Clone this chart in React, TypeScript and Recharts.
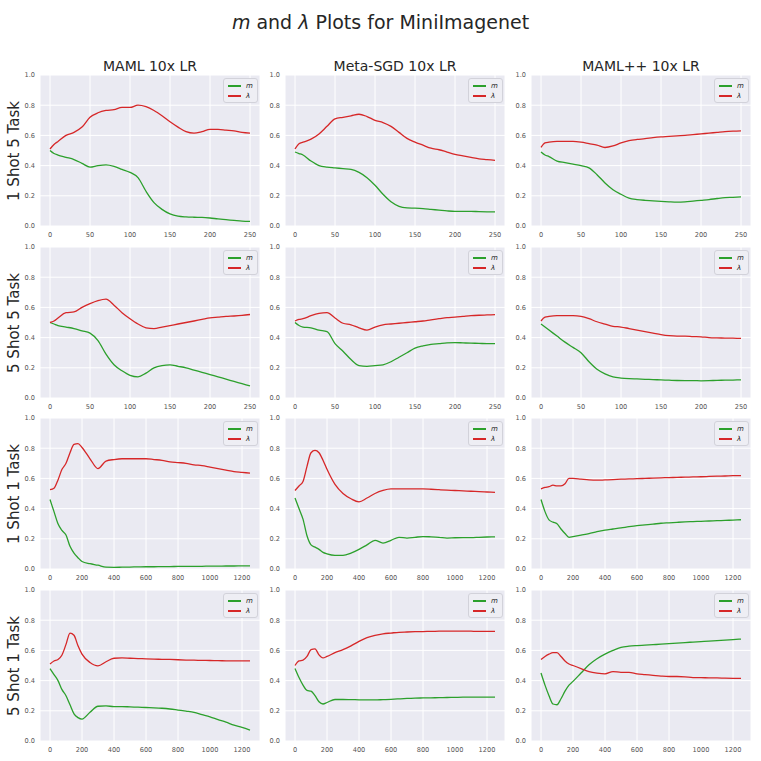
import React from "react";
import { LineChart, Line, XAxis, YAxis, CartesianGrid, Legend } from "recharts";

// training steps (x values)
const SHORT_STEPS = [0, 5, 10, 20, 30, 40, 50, 60, 70, 80, 90, 100, 110, 120, 130, 140, 150, 160, 170, 180, 190, 200, 210, 220, 230, 240, 250];
const LONG_STEPS = [0, 25, 50, 75, 100, 125, 150, 175, 200, 250, 300, 350, 400, 450, 500, 550, 600, 650, 700, 750, 800, 850, 900, 950, 1000, 1050, 1100, 1150, 1200, 1250];

const SHORT_TICKS = [0, 50, 100, 150, 200, 250];
const LONG_TICKS = [0, 200, 400, 600, 800, 1000, 1200];
const Y_TICKS = [0, 0.2, 0.4, 0.6, 0.8, 1.0];

const ROW_LABELS = ["1 Shot 5 Task", "5 Shot 5 Task", "1 Shot 1 Task", "5 Shot 1 Task"];
const COL_LABELS = ["MAML 10x LR", "Meta-SGD 10x LR", "MAML++ 10x LR"];

// 1 shot 5 task
const M_1S5T_MAML = [0.5, 0.48, 0.47, 0.455, 0.44, 0.415, 0.39, 0.4, 0.405, 0.395, 0.375, 0.355, 0.32, 0.23, 0.155, 0.11, 0.08, 0.065, 0.06, 0.058, 0.057, 0.053, 0.047, 0.042, 0.037, 0.032, 0.03];
const L_1S5T_MAML = [0.51, 0.54, 0.56, 0.6, 0.62, 0.655, 0.72, 0.75, 0.765, 0.77, 0.785, 0.785, 0.8, 0.79, 0.765, 0.73, 0.69, 0.655, 0.625, 0.615, 0.625, 0.64, 0.64, 0.635, 0.63, 0.62, 0.615];
const M_1S5T_SGD = [0.49, 0.48, 0.47, 0.43, 0.4, 0.39, 0.385, 0.38, 0.375, 0.355, 0.32, 0.27, 0.21, 0.16, 0.13, 0.12, 0.118, 0.115, 0.11, 0.105, 0.1, 0.097, 0.097, 0.097, 0.095, 0.094, 0.094];
const L_1S5T_SGD = [0.51, 0.545, 0.555, 0.575, 0.61, 0.66, 0.71, 0.72, 0.73, 0.74, 0.725, 0.7, 0.685, 0.66, 0.62, 0.58, 0.555, 0.535, 0.515, 0.505, 0.49, 0.475, 0.465, 0.455, 0.445, 0.44, 0.435];
const M_1S5T_PP = [0.49, 0.47, 0.46, 0.43, 0.42, 0.41, 0.4, 0.385, 0.34, 0.285, 0.24, 0.21, 0.185, 0.175, 0.17, 0.167, 0.163, 0.16, 0.158, 0.16, 0.165, 0.17, 0.175, 0.182, 0.188, 0.19, 0.193];
const L_1S5T_PP = [0.52, 0.55, 0.555, 0.56, 0.56, 0.56, 0.555, 0.545, 0.535, 0.52, 0.53, 0.55, 0.565, 0.573, 0.578, 0.585, 0.59, 0.593, 0.597, 0.6, 0.605, 0.61, 0.615, 0.62, 0.625, 0.628, 0.63];

// 5 shot 5 task
const M_5S5T_MAML = [0.5, 0.49, 0.48, 0.47, 0.46, 0.445, 0.43, 0.38, 0.29, 0.22, 0.18, 0.15, 0.14, 0.165, 0.2, 0.215, 0.22, 0.21, 0.2, 0.185, 0.17, 0.155, 0.14, 0.125, 0.11, 0.095, 0.08];
const L_5S5T_MAML = [0.5, 0.51, 0.53, 0.565, 0.57, 0.6, 0.625, 0.645, 0.655, 0.615, 0.565, 0.525, 0.49, 0.465, 0.46, 0.47, 0.48, 0.49, 0.5, 0.51, 0.52, 0.53, 0.535, 0.54, 0.543, 0.547, 0.553];
const M_5S5T_SGD = [0.5, 0.48, 0.47, 0.465, 0.45, 0.44, 0.36, 0.31, 0.255, 0.215, 0.21, 0.215, 0.22, 0.24, 0.27, 0.3, 0.33, 0.345, 0.355, 0.36, 0.365, 0.367, 0.365, 0.363, 0.362, 0.36, 0.36];
const L_5S5T_SGD = [0.51, 0.52, 0.525, 0.545, 0.56, 0.565, 0.53, 0.495, 0.485, 0.465, 0.45, 0.47, 0.485, 0.49, 0.495, 0.5, 0.505, 0.51, 0.518, 0.525, 0.532, 0.535, 0.54, 0.545, 0.548, 0.55, 0.552];
const M_5S5T_PP = [0.49, 0.47, 0.45, 0.41, 0.37, 0.335, 0.3, 0.24, 0.19, 0.16, 0.14, 0.132, 0.128, 0.126, 0.124, 0.122, 0.12, 0.118, 0.116, 0.115, 0.115, 0.114, 0.115, 0.117, 0.118, 0.119, 0.12];
const L_5S5T_PP = [0.51, 0.535, 0.54, 0.545, 0.545, 0.545, 0.54, 0.525, 0.505, 0.49, 0.475, 0.47, 0.46, 0.45, 0.44, 0.43, 0.42, 0.413, 0.41, 0.41, 0.407, 0.405, 0.4, 0.398, 0.397, 0.396, 0.395];

// 1 shot 1 task
const M_1S1T_MAML = [0.46, 0.38, 0.3, 0.255, 0.225, 0.15, 0.105, 0.075, 0.05, 0.035, 0.025, 0.012, 0.011, 0.012, 0.013, 0.014, 0.015, 0.015, 0.016, 0.016, 0.017, 0.017, 0.018, 0.018, 0.019, 0.019, 0.02, 0.02, 0.021, 0.021];
const L_1S1T_MAML = [0.525, 0.535, 0.59, 0.66, 0.7, 0.77, 0.825, 0.83, 0.805, 0.73, 0.665, 0.715, 0.725, 0.73, 0.73, 0.73, 0.73, 0.725, 0.72, 0.71, 0.705, 0.7, 0.69, 0.685, 0.675, 0.665, 0.655, 0.645, 0.64, 0.635];
const M_1S1T_SGD = [0.47, 0.4, 0.33, 0.22, 0.16, 0.145, 0.13, 0.11, 0.1, 0.09, 0.09, 0.105, 0.13, 0.16, 0.19, 0.172, 0.19, 0.21, 0.205, 0.21, 0.215, 0.213, 0.21, 0.205, 0.207, 0.208, 0.208, 0.21, 0.212, 0.213];
const L_1S1T_SGD = [0.52, 0.55, 0.58, 0.68, 0.77, 0.785, 0.77, 0.72, 0.66, 0.56, 0.5, 0.465, 0.445, 0.47, 0.5, 0.52, 0.53, 0.53, 0.53, 0.53, 0.53, 0.528, 0.525, 0.522, 0.52, 0.517, 0.515, 0.512, 0.51, 0.508];
const M_1S1T_PP = [0.46, 0.38, 0.325, 0.31, 0.3, 0.265, 0.235, 0.21, 0.215, 0.225, 0.235, 0.248, 0.258, 0.265, 0.272, 0.28, 0.287, 0.292, 0.297, 0.303, 0.306, 0.309, 0.312, 0.314, 0.316, 0.318, 0.32, 0.322, 0.324, 0.326];
const L_1S1T_PP = [0.53, 0.54, 0.545, 0.555, 0.55, 0.55, 0.565, 0.6, 0.6, 0.595, 0.59, 0.588, 0.59, 0.592, 0.595, 0.597, 0.598, 0.6, 0.602, 0.604, 0.605, 0.607, 0.608, 0.61, 0.611, 0.613, 0.615, 0.616, 0.618, 0.618];

// 5 shot 1 task
const M_5S1T_MAML = [0.48, 0.44, 0.4, 0.34, 0.3, 0.24, 0.18, 0.155, 0.145, 0.19, 0.23, 0.232, 0.228, 0.228, 0.226, 0.224, 0.222, 0.22, 0.217, 0.212, 0.205, 0.198, 0.19, 0.175, 0.16, 0.142, 0.125, 0.105, 0.09, 0.072];
const L_5S1T_MAML = [0.51, 0.53, 0.54, 0.57, 0.64, 0.715, 0.7, 0.63, 0.575, 0.52, 0.498, 0.525, 0.548, 0.55, 0.548, 0.546, 0.544, 0.542, 0.541, 0.54, 0.538, 0.536, 0.535, 0.534, 0.533, 0.532, 0.531, 0.53, 0.53, 0.53];
const M_5S1T_SGD = [0.48, 0.42, 0.37, 0.335, 0.33, 0.3, 0.26, 0.245, 0.255, 0.275, 0.275, 0.274, 0.273, 0.272, 0.272, 0.274, 0.276, 0.279, 0.282, 0.284, 0.285, 0.286, 0.287, 0.288, 0.289, 0.29, 0.29, 0.29, 0.29, 0.29];
const L_5S1T_SGD = [0.5, 0.53, 0.535, 0.56, 0.605, 0.61, 0.57, 0.55, 0.56, 0.585, 0.605, 0.63, 0.66, 0.685, 0.7, 0.71, 0.715, 0.72, 0.722, 0.724, 0.725, 0.726, 0.727, 0.728, 0.728, 0.728, 0.727, 0.726, 0.726, 0.726];
const M_5S1T_PP = [0.45, 0.37, 0.3, 0.245, 0.24, 0.28, 0.33, 0.37, 0.395, 0.45, 0.505, 0.545, 0.575, 0.6, 0.62, 0.628, 0.632, 0.635, 0.638, 0.641, 0.645, 0.648, 0.652, 0.655, 0.658, 0.661, 0.665, 0.668, 0.672, 0.675];
const L_5S1T_PP = [0.54, 0.56, 0.575, 0.585, 0.585, 0.56, 0.53, 0.51, 0.5, 0.48, 0.46, 0.45, 0.445, 0.46, 0.455, 0.455, 0.445, 0.44, 0.435, 0.43, 0.427, 0.427, 0.425, 0.42, 0.42, 0.418, 0.418, 0.416, 0.415, 0.415];

const COLORS = { m: "#2ca02c", lam: "#d62728" };

// layout (px)
const COL_LEFT = [40, 285, 531];
const ROW_TOP = [75, 247, 418, 590];
const PLOT_W = 220;
const PLOT_H = 151;
const Y_W = 30;
const X_H = 20;
const TOP_PAD = 6;

const toRows = (steps: number[], m: number[], lam: number[]) =>
  steps.map((x, i) => ({ x, m: m[i], lam: lam[i] }));

const PANELS = [
  [toRows(SHORT_STEPS, M_1S5T_MAML, L_1S5T_MAML), toRows(SHORT_STEPS, M_1S5T_SGD, L_1S5T_SGD), toRows(SHORT_STEPS, M_1S5T_PP, L_1S5T_PP)],
  [toRows(SHORT_STEPS, M_5S5T_MAML, L_5S5T_MAML), toRows(SHORT_STEPS, M_5S5T_SGD, L_5S5T_SGD), toRows(SHORT_STEPS, M_5S5T_PP, L_5S5T_PP)],
  [toRows(LONG_STEPS, M_1S1T_MAML, L_1S1T_MAML), toRows(LONG_STEPS, M_1S1T_SGD, L_1S1T_SGD), toRows(LONG_STEPS, M_1S1T_PP, L_1S1T_PP)],
  [toRows(LONG_STEPS, M_5S1T_MAML, L_5S1T_MAML), toRows(LONG_STEPS, M_5S1T_SGD, L_5S1T_SGD), toRows(LONG_STEPS, M_5S1T_PP, L_5S1T_PP)],
];

const PanelLegend = ({ payload }: any) => (
  <div
    style={{
      background: "#EEEEF4",
      border: "1px solid #d2d2da",
      borderRadius: 3,
      padding: "2px 4px 1px 4px",
      fontSize: 7,
      lineHeight: "10px",
    }}
  >
    {(payload || []).map((entry: any) => (
      <div key={entry.value} style={{ display: "flex", alignItems: "center" }}>
        <span style={{ display: "inline-block", width: 13, height: 1.4, background: entry.color, marginRight: 5 }} />
        <span style={{ fontStyle: "italic", color: "#262626" }}>{entry.value}</span>
      </div>
    ))}
  </div>
);

function Panel({ data, long }: { data: any[]; long: boolean }) {
  const span = long ? 1250 : 250;
  return (
    <LineChart
      width={Y_W + PLOT_W + 4}
      height={TOP_PAD + PLOT_H + X_H}
      data={data}
      margin={{ top: TOP_PAD, right: 4, left: 0, bottom: 0 }}
    >
      <CartesianGrid stroke="#ffffff" strokeWidth={1} fill="#EAEAF2" fillOpacity={1} />
      <XAxis
        dataKey="x"
        type="number"
        domain={[-span * 0.05, span * 1.05]}
        ticks={long ? LONG_TICKS : SHORT_TICKS}
        allowDataOverflow
        axisLine={false}
        tickLine={false}
        tickSize={0}
        tickMargin={6}
        height={X_H}
        tick={{ fontSize: 6.6, fill: "#555" }}
      />
      <YAxis
        type="number"
        domain={[0, 1]}
        ticks={Y_TICKS}
        axisLine={false}
        tickLine={false}
        tickSize={0}
        tickMargin={5}
        width={Y_W}
        tick={{ fontSize: 6.6, fill: "#555" }}
        tickFormatter={(v: number) => v.toFixed(1)}
      />
      <Legend
        layout="vertical"
        align="center"
        verticalAlign="middle"
        wrapperStyle={{ top: TOP_PAD + 3, left: Y_W + PLOT_W - 37, width: "auto", right: "auto", bottom: "auto" }}
        content={(props: any) => <PanelLegend payload={props.payload} />}
      />
      <Line type="monotone" dataKey="m" name="m" stroke={COLORS.m} strokeWidth={1.3} dot={false} isAnimationActive={false} />
      <Line type="monotone" dataKey="lam" name="λ" stroke={COLORS.lam} strokeWidth={1.3} dot={false} isAnimationActive={false} />
    </LineChart>
  );
}

export default function App() {
  return (
    <div
      style={{
        position: "absolute",
        left: 0,
        top: 0,
        width: 761,
        height: 761,
        background: "#ffffff",
        fontFamily: "'DejaVu Sans', sans-serif",
        color: "#262626",
      }}
    >
      <div style={{ position: "absolute", top: 11, left: 0, width: 761, textAlign: "center", fontSize: 19 }}>
        <i>m</i> and <i>λ</i> Plots for MiniImagenet
      </div>
      {COL_LABELS.map((label, c) => (
        <div
          key={label}
          style={{ position: "absolute", top: 58, left: COL_LEFT[c], width: PLOT_W, textAlign: "center", fontSize: 14 }}
        >
          {label}
        </div>
      ))}
      {ROW_LABELS.map((label, r) => (
        <div
          key={label}
          style={{
            position: "absolute",
            left: 14 - 80,
            top: ROW_TOP[r] + PLOT_H / 2 - 10,
            width: 160,
            height: 20,
            textAlign: "center",
            fontSize: 15,
            lineHeight: "20px",
            transform: "rotate(-90deg)",
          }}
        >
          {label}
        </div>
      ))}
      {PANELS.map((row, r) =>
        row.map((data, c) => (
          <div
            key={`${r}-${c}`}
            style={{ position: "absolute", left: COL_LEFT[c] - Y_W, top: ROW_TOP[r] - TOP_PAD }}
          >
            <Panel data={data} long={r >= 2} />
          </div>
        ))
      )}
    </div>
  );
}
